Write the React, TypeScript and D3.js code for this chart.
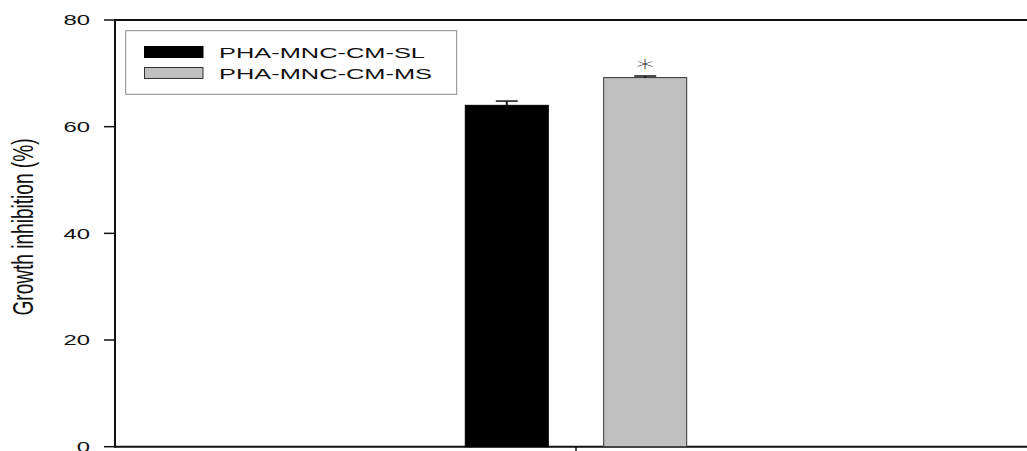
import React, { useEffect, useRef } from "react";
import * as d3 from "d3";

// data
const groups = ["PHA"];
const seriesNames = ["PHA-MNC-CM-SL", "PHA-MNC-CM-MS"];
const seriesColors = ["#000000", "#c0c0c0"];
const seriesValues = [64.0, 69.2];
const seriesErrors = [0.8, 0.3];
const seriesMarks = ["", "*"];
const yTicks = [0, 20, 40, 60, 80];

// the source picture is stretched sideways, so text is too
const SX = 1.65;

export default function App() {
  const ref = useRef<SVGSVGElement>(null);

  useEffect(() => {
    const svg = d3.select(ref.current);
    svg.selectAll("*").remove();

    const left = 115;
    const right = 1037;
    const top = 20;
    const bottom = 446.7;

    const y = d3.scaleLinear().domain([0, 80]).range([bottom, top]);
    const x0 = d3.scaleBand().domain(groups).range([left, right]).paddingInner(0).paddingOuter(1.582);
    const x1 = d3.scaleBand().domain(seriesNames).range([0, x0.bandwidth()]).paddingInner(0.4);

    const font = "Arial, 'Liberation Sans', sans-serif";

    // frame lines
    svg.append("line")
      .attr("x1", left).attr("x2", right).attr("y1", top).attr("y2", top)
      .attr("stroke", "#111").attr("stroke-width", 2);
    svg.append("line")
      .attr("x1", left).attr("x2", right).attr("y1", bottom).attr("y2", bottom)
      .attr("stroke", "#111").attr("stroke-width", 2);
    svg.append("line")
      .attr("x1", left).attr("x2", left).attr("y1", top - 1).attr("y2", bottom + 1)
      .attr("stroke", "#111").attr("stroke-width", 2);

    // y ticks
    const yt = svg.append("g");
    yt.selectAll("line")
      .data(yTicks)
      .join("line")
      .attr("x1", left - 11).attr("x2", left)
      .attr("y1", d => y(d)).attr("y2", d => y(d))
      .attr("stroke", "#111").attr("stroke-width", 1.5);
    yt.selectAll("text")
      .data(yTicks)
      .join("text")
      .attr("transform", d => `translate(90, ${y(d) + 5.2}) scale(${SX},1)`)
      .attr("text-anchor", "end")
      .attr("font-family", font)
      .attr("font-size", 14.5)
      .attr("fill", "#111")
      .text(d => d);

    // category tick
    groups.forEach(g => {
      const cx = x0(g)! + x0.bandwidth() / 2;
      svg.append("line")
        .attr("x1", cx).attr("x2", cx).attr("y1", bottom).attr("y2", bottom + 10)
        .attr("stroke", "#111").attr("stroke-width", 1.5);
    });

    // bars
    const bars = svg.append("g");
    seriesNames.forEach((s, i) => {
      groups.forEach(g => {
        const bx = x0(g)! + x1(s)!;
        const v = seriesValues[i];
        bars.append("rect")
          .attr("x", bx).attr("y", y(v))
          .attr("width", x1.bandwidth()).attr("height", y(0) - y(v))
          .attr("fill", seriesColors[i])
          .attr("stroke", i === 0 ? "#000" : "#333")
          .attr("stroke-width", 1);

        const cx = bx + x1.bandwidth() / 2;
        const ey = y(v + seriesErrors[i]);
        bars.append("line")
          .attr("x1", cx).attr("x2", cx).attr("y1", y(v)).attr("y2", ey)
          .attr("stroke", "#111").attr("stroke-width", 2);
        bars.append("line")
          .attr("x1", cx - 11).attr("x2", cx + 11).attr("y1", ey).attr("y2", ey)
          .attr("stroke", "#111").attr("stroke-width", 1.5);

        if (seriesMarks[i]) {
          bars.append("text")
            .attr("transform", `translate(${cx}, ${ey - 1.5}) scale(${SX},1)`)
            .attr("text-anchor", "middle")
            .attr("font-family", "'DejaVu Sans', sans-serif")
            .attr("font-weight", 300)
            .attr("font-size", 22)
            .attr("fill", "#333")
            .text(seriesMarks[i]);
        }
      });
    });

    // legend
    const lg = svg.append("g");
    lg.append("rect")
      .attr("x", 125.7).attr("y", 30.7).attr("width", 331).attr("height", 63.6)
      .attr("fill", "#fff").attr("stroke", "#888").attr("stroke-width", 1);
    seriesNames.forEach((s, i) => {
      const base = 57.7 + i * 21;
      lg.append("rect")
        .attr("x", 144.5).attr("y", base - 11.2)
        .attr("width", 58.5).attr("height", 11)
        .attr("fill", seriesColors[i])
        .attr("stroke", i === 0 ? "#000" : "#333").attr("stroke-width", 1);
      lg.append("text")
        .attr("transform", `translate(219, ${base}) scale(${SX},1)`)
        .attr("font-family", font)
        .attr("font-size", 15.4)
        .attr("fill", "#111")
        .text(s);
    });

    // y axis title
    svg.append("text")
      .attr("transform", `translate(33, 227) scale(${SX},1) rotate(-90)`)
      .attr("text-anchor", "middle")
      .attr("font-family", font)
      .attr("font-size", 18.3)
      .attr("textLength", 177)
      .attr("lengthAdjust", "spacingAndGlyphs")
      .attr("fill", "#111")
      .text("Growth inhibition (%)");
  }, []);

  return (
    <svg
      ref={ref}
      width={1027}
      height={451}
      style={{ position: "absolute", left: 0, top: 0, background: "#fff" }}
    ></svg>
  );
}
